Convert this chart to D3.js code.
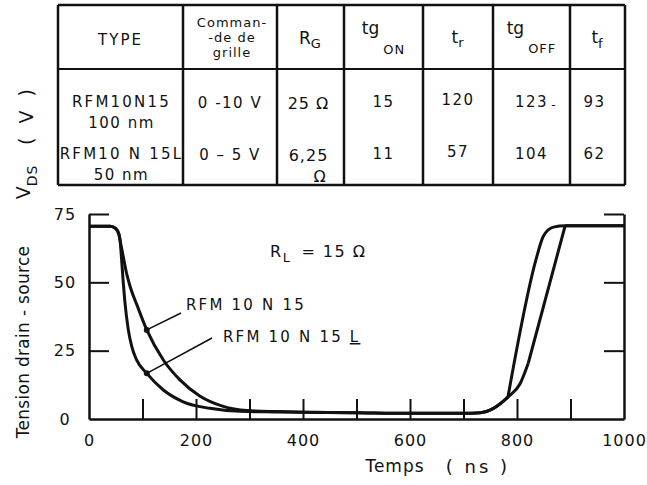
<!DOCTYPE html>
<html>
<head>
<meta charset="utf-8">
<script src="https://cdn.jsdelivr.net/npm/d3@7"></script>
<style>
  body { margin: 0; background: #fff; }
  svg text { font-family: "DejaVu Sans", sans-serif; fill: #111; }
</style>
</head>
<body>
<svg id="chart" width="647" height="485"></svg>
<script>
// table contents
const headerMain = ['TYPE', ['Comman-', '-de de', 'grille'], 'R', 'tg', 't', 'tg', 't'];
const headerSub = ['', '', 'G', 'ON', 'r', 'OFF', 'f'];
const typeNames = ['RFM10N15', 'RFM10 N 15L'];
const typeSizes = ['100 nm', '50 nm'];
const gateDrive = ['0 -10 V', '0 – 5 V'];
const gateRes = ['25 Ω', '6,25'];
const tgOn = [15, 11];
const tRise = [120, 57];
const tgOff = [123, 104];
const tFall = [93, 62];

// curves: [time ns, V_DS]
const n15Fall = [[0, 70.5], [40, 70.5], [50, 69.7], [56, 67.5], [58, 65.5], [64, 59.4], [70, 53.5], [77, 48.4],
  [90, 41.5], [108, 32.6], [139, 21.6], [170, 14.3], [207, 8.4], [251, 4.6], [295, 3.1], [351, 2.7], [400, 2.5],
  [500, 2.3], [600, 2.1], [700, 2.1], [731, 2.3], [756, 3.9], [783, 8], [806, 13], [821, 20.4]];
const n15Ramp = [[821, 20.4], [890, 70.7]];
const n15High = [[890, 70.7], [1000, 70.7]];
const lFall = [[0, 70.5], [40, 70.5], [50, 69.7], [56, 67.5], [58, 65.5], [61, 58.2], [64, 50], [67, 43],
  [73.5, 32.6], [80, 26.5], [89, 21.6], [108, 16.7], [139, 10.6], [176, 6.3], [226, 3.9], [282, 2.8], [345, 2.6],
  [400, 2.5], [500, 2.3], [600, 2.1], [700, 2.1], [731, 2.3], [756, 3.9], [783, 8]];
const lRise = [[783, 8], [837, 59.4], [849, 66.8], [868, 70.2], [890, 70.7], [1000, 70.7]];

const seriesLabels = ['RFM 10 N 15', 'RFM 10 N 15 '];
const calloutTimes = [108, 108];

const xTicks = d3.range(0, 1001, 100);
const yTicks = [0, 25, 50, 75];

function drawChart(svg) {
  const x = d3.scaleLinear().domain([0, 1000]).range([89, 624]);
  const y = d3.scaleLinear().domain([0, 75]).range([419, 214]);

  // table
  const colX = [58, 183, 277, 344, 423, 493, 570, 625];
  const rowY = [5, 69, 185];
  const colMid = i => (colX[i] + colX[i + 1]) / 2;
  const table = svg.append('g').attr('class', 'g_table');

  table
    .selectAll('.row_line')
    .data(rowY)
    .enter()
    .append('line')
    .attr('x1', colX[0])
    .attr('x2', colX[colX.length - 1])
    .attr('y1', d => d)
    .attr('y2', d => d)
    .style('stroke', '#111')
    .style('stroke-width', (d, i) => (i == 1 ? 2 : 2.5));

  table
    .selectAll('.col_line')
    .data(colX)
    .enter()
    .append('line')
    .attr('x1', d => d)
    .attr('x2', d => d)
    .attr('y1', rowY[0])
    .attr('y2', rowY[2])
    .style('stroke', '#111')
    .style('stroke-width', 2.5);

  // header
  table.append('text').attr('x', colMid(0)).attr('y', 45).attr('text-anchor', 'middle')
    .style('font-size', '15px').style('letter-spacing', '2px').text(headerMain[0]);
  headerMain[1].forEach((t, i) => {
    table.append('text').attr('x', colMid(1) + 2).attr('y', 27 + i * 15).attr('text-anchor', 'middle')
      .style('font-size', '13px').style('letter-spacing', '1px').text(t);
  });
  const subDrop = [0, 0, 4, 20, 4, 19, 5];
  const mainBase = [0, 0, 44, 34, 43, 34, 43];
  [2, 3, 4, 5, 6].forEach(i => {
    const t = table.append('text').attr('x', colMid(i)).attr('y', mainBase[i]).attr('text-anchor', 'middle')
      .style('font-size', '17px');
    t.append('tspan').text(headerMain[i]);
    t.append('tspan').attr('dx', i == 3 || i == 5 ? 4 : 0).attr('dy', subDrop[i]).style('font-size', '13px')
      .style('letter-spacing', '1px').text(headerSub[i]);
  });

  // rows
  const rowBase = [107, 159];
  const cellText = (cx, cy, txt, size, spacing) =>
    table.append('text').attr('x', cx).attr('y', cy).attr('text-anchor', 'middle')
      .style('font-size', size + 'px').style('letter-spacing', spacing + 'px').text(txt);

  typeNames.forEach((d, i) => {
    cellText(colMid(0) + 1, rowBase[i], d, 15, 2.2);
    cellText(colMid(0) + 1, rowBase[i] + 21, typeSizes[i], 15, 1.5);
    cellText(colMid(1), rowBase[i] + 1, gateDrive[i], 15, 1.5);
    cellText(colMid(2) - 2, rowBase[i] + 2, gateRes[i], 16, 1);
    cellText(colMid(3), rowBase[i], tgOn[i], 15, 1.5);
    cellText(colMid(4), rowBase[i] - 2, tRise[i], 15, 1.5);
    cellText(colMid(5), rowBase[i], tgOff[i], 15, 1.5);
    cellText(colMid(6) - 3, rowBase[i], tFall[i], 15, 1.5);
  });
  cellText(colMid(2) + 9, rowBase[1] + 23, 'Ω', 16, 0);
  cellText(colMid(5) + 22, rowBase[0] + 2, '-', 12, 0);

  // axes
  const axisLeft = d3.axisLeft(y).tickValues(yTicks).tickSize(-20).tickSizeOuter(0).tickPadding(0);
  const gLeft = svg.append('g').attr('transform', 'translate(' + x(0) + ',0)').call(axisLeft);
  gLeft.selectAll('text').attr('x', -24).attr('text-anchor', 'middle').style('font-size', '16px')
    .style('letter-spacing', '1px');

  const axisRight = d3.axisRight(y).tickValues(yTicks.slice(1)).tickSize(-20).tickSizeOuter(0).tickFormat('');
  svg.append('g').attr('transform', 'translate(' + x(1000) + ',0)').call(axisRight);

  const axisBottom = d3
    .axisBottom(x)
    .tickValues(xTicks)
    .tickSize(-20)
    .tickSizeOuter(0)
    .tickPadding(16)
    .tickFormat(d => (d % 200 == 0 ? d : ''));
  const gBottom = svg.append('g').attr('transform', 'translate(0,' + y(0) + ')').call(axisBottom);
  gBottom.selectAll('text').style('font-size', '16px').style('letter-spacing', '1px');

  svg.selectAll('.domain').style('stroke', '#111').style('stroke-width', 2.5);
  svg.selectAll('.tick line').style('stroke', '#111').style('stroke-width', 2);
  svg.selectAll('.tick').filter(d => d == 0 || d == 1000).select('line').remove();

  // curves
  const drawCurve = d3
    .line()
    .x(d => x(d[0]))
    .y(d => y(d[1]))
    .curve(d3.curveMonotoneX);

  [n15Fall, n15Ramp, n15High, lFall, lRise].forEach(seg => {
    svg.append('path')
      .attr('d', drawCurve(seg))
      .style('fill', 'none')
      .style('stroke', '#111')
      .style('stroke-width', 3)
      .style('stroke-linejoin', 'round');
  });

  // callouts
  const calloutSeries = [n15Fall, lFall];
  const labelAnchor = [[181, 313], [212, 338]];
  const labelPos = [[186, 310], [223, 342]];
  calloutTimes.forEach((t, i) => {
    const pt = calloutSeries[i].find(d => d[0] == t);
    svg.append('line')
      .attr('x1', x(pt[0])).attr('y1', y(pt[1]))
      .attr('x2', labelAnchor[i][0]).attr('y2', labelAnchor[i][1])
      .style('stroke', '#111').style('stroke-width', 1.6);
    svg.append('circle').attr('cx', x(pt[0])).attr('cy', y(pt[1])).attr('r', 3).style('fill', '#111');
    const lbl = svg.append('text').attr('x', labelPos[i][0]).attr('y', labelPos[i][1])
      .style('font-size', '15px').style('letter-spacing', '2.2px').text(seriesLabels[i]);
    if (i == 1) lbl.append('tspan').style('text-decoration', 'underline').text('L');
  });

  const rl = svg.append('text').attr('x', 270).attr('y', 257).style('font-size', '16px').style('letter-spacing', '1.5px');
  rl.append('tspan').text('R');
  rl.append('tspan').attr('dy', 5).style('font-size', '13px').text('L');
  rl.append('tspan').attr('dy', -5).attr('dx', 10).text('=  15  Ω');

  // axis titles
  svg.append('text').attr('x', 395).attr('y', 472).attr('text-anchor', 'middle')
    .style('font-size', '17px').style('letter-spacing', '1px').text('Temps');
  svg.append('text').attr('x', 478).attr('y', 473).attr('text-anchor', 'middle')
    .style('font-size', '18px').style('letter-spacing', '3px').text('( ns )');

  svg.append('text').attr('transform', 'translate(29,342) rotate(-90)').attr('text-anchor', 'middle')
    .style('font-size', '17px').style('letter-spacing', '0.3px').text('Tension drain - source');
  const vds = svg.append('text').attr('transform', 'translate(30,182) rotate(-90)').attr('text-anchor', 'middle')
    .style('font-size', '19px');
  vds.append('tspan').text('V');
  vds.append('tspan').attr('dy', 7).style('font-size', '14px').style('letter-spacing', '1px').text('DS');
  svg.append('text').attr('transform', 'translate(33,115) rotate(-90)').attr('text-anchor', 'middle')
    .style('font-size', '19px').style('letter-spacing', '4px').text('( V )');
}

drawChart(d3.select('#chart'));
</script>
</body>
</html>
